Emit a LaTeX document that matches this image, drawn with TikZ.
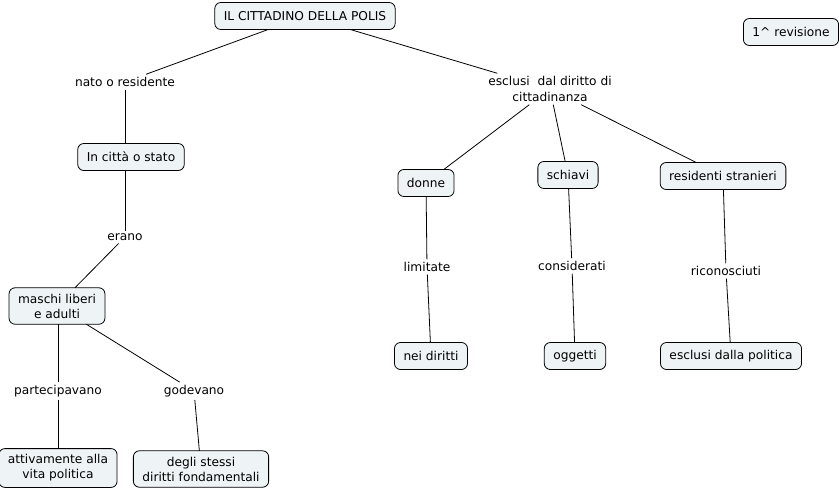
\documentclass[tikz,border=0pt]{standalone}
\usepackage{fontspec}
\setmainfont{DejaVu Sans}
\definecolor{boxfill}{RGB}{238,243,246}
\begin{document}
\begin{tikzpicture}[x=1pt,y=-1pt,
  every node/.style={font=\fontsize{12.2}{15}\selectfont, align=center},
  concept/.style={draw=black, fill=boxfill, rounded corners=6pt, line width=0.8pt, inner xsep=9pt, inner ysep=6pt, minimum height=27pt, outer sep=0pt},
  linklbl/.style={inner sep=2pt, outer sep=1pt},
  conn/.style={line width=0.8pt, black}]
\useasboundingbox (0,0) rectangle (839,493);
\node[concept] (title) at (305,16) {IL CITTADINO DELLA POLIS};
\node[concept] (rev) at (791,32) {1\^{} revisione};
\node[linklbl] (nato) at (125,82) {nato o residente};
\node[linklbl,font=\fontsize{12.2}{16}\selectfont] (escl) at (550,89) {esclusi\ \ dal diritto di\\cittadinanza};
\node[concept] (citta) at (131,157) {In città o stato};
\node[linklbl] (erano) at (125,237) {erano};
\node[concept] (maschi) at (57,306) {maschi liberi\\e adulti};
\node[linklbl] (part) at (58,391) {partecipavano};
\node[linklbl] (god) at (194,391) {godevano};
\node[concept] (attiv) at (58,468) {attivamente alla\\vita politica};
\node[concept] (degli) at (201,469) {degli stessi\\diritti fondamentali};
\node[concept] (donne) at (426,183) {donne};
\node[concept] (schiavi) at (568,175) {schiavi};
\node[concept] (resid) at (723,176) {residenti stranieri};
\node[linklbl] (limit) at (427,267) {limitate};
\node[linklbl] (consid) at (572,266) {considerati};
\node[linklbl] (ricon) at (726,271) {riconosciuti};
\node[concept] (nei) at (431,356) {nei diritti};
\node[concept] (ogg) at (575,356) {oggetti};
\node[concept] (esclpol) at (731,356) {esclusi dalla politica};
\draw[conn] (title) -- (nato);
\draw[conn] (nato) -- (citta.north -| nato);
\draw[conn] (citta.south -| erano) -- (erano);
\draw[conn] (erano) -- (maschi);
\draw[conn] (maschi.south -| part) -- (part);
\draw[conn] (part) -- (attiv.north -| part);
\draw[conn] (maschi) -- (god);
\draw[conn] (god) -- (degli);
\draw[conn] (title) -- (escl);
\draw[conn] (escl) -- (donne);
\draw[conn] (escl) -- (schiavi);
\draw[conn] (escl) -- (resid);
\draw[conn] (donne) -- (limit);
\draw[conn] (limit) -- (nei);
\draw[conn] (schiavi) -- (consid);
\draw[conn] (consid) -- (ogg);
\draw[conn] (resid) -- (ricon);
\draw[conn] (ricon) -- (esclpol);
\end{tikzpicture}
\end{document}
